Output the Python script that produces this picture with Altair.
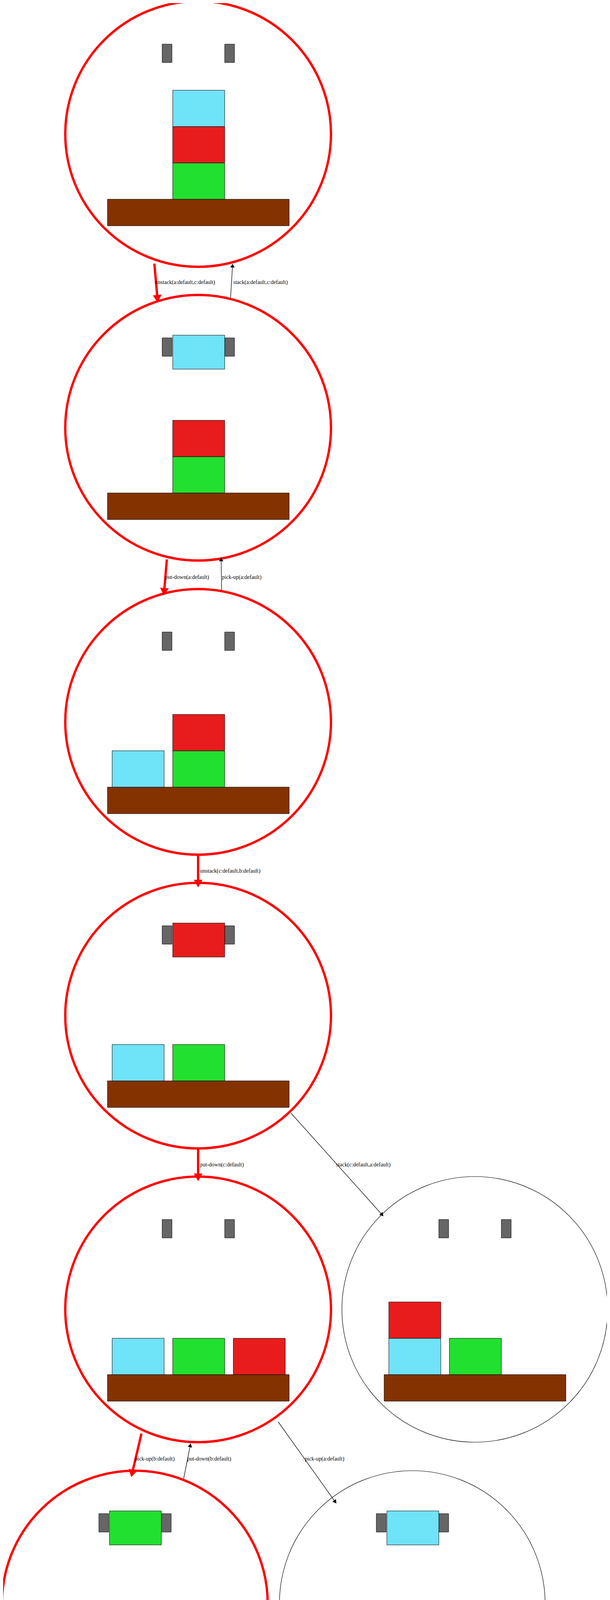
import altair as alt
import pandas as pd
import numpy as np

# -----------------------
# Graph data (image pixel coordinates)
# -----------------------
node_ids = ["s1", "s2", "s3", "s4", "s5", "s5b", "s6", "s6b", "s7"]
node_cx = [507, 507, 507, 507, 507, 1215, 345, 1055, 345]
node_cy = [343, 1095, 1848, 2600, 3352, 3352, 4105, 4105, 4858]
node_on_plan = [True, True, True, True, True, False, True, False, True]

# blocks per state: (slot, level, colour); slot -1/0/1 on table, "hold" = in gripper
CYAN, RED, GREEN = "#6fe3f7", "#e81c1c", "#22e02f"
state_blocks = {
    "s1": [(0, 0, GREEN), (0, 1, RED), (0, 2, CYAN)],
    "s2": [(0, 0, GREEN), (0, 1, RED), ("hold", 0, CYAN)],
    "s3": [(-1, 0, CYAN), (0, 0, GREEN), (0, 1, RED)],
    "s4": [(-1, 0, CYAN), (0, 0, GREEN), ("hold", 0, RED)],
    "s5": [(-1, 0, CYAN), (0, 0, GREEN), (1, 0, RED)],
    "s5b": [(-1, 0, CYAN), (-1, 1, RED), (0, 0, GREEN)],
    "s6": [(-1, 0, CYAN), (1, 0, RED), ("hold", 0, GREEN)],
    "s6b": [(0, 0, GREEN), (1, 0, RED), ("hold", 0, CYAN)],
    "s7": [(-1, 0, CYAN), (-1, 1, GREEN), (1, 0, RED)],
}

edge_src = ["s1", "s2", "s2", "s3", "s3", "s4", "s4", "s5", "s6", "s5", "s6"]
edge_dst = ["s2", "s1", "s3", "s2", "s4", "s5", "s5b", "s6", "s5", "s6b", "s7"]
edge_label = [
    "unstack(a:default,c:default)", "stack(a:default,c:default)",
    "put-down(a:default)", "pick-up(a:default)",
    "unstack(c:default,b:default)", "put-down(c:default)",
    "stack(c:default,a:default)", "pick-up(b:default)",
    "put-down(b:default)", "pick-up(a:default)",
    "stack(b:default,a:default)",
]
edge_on_plan = [True, False, True, False, True, True, False, True, False, False, True]
# start / end points of each edge
edge_x1 = [395, 590, 427, 567, 507, 507, 745, 362, 470, 712, 345]
edge_y1 = [675, 763, 1432, 1512, 2188, 2940, 2850, 3670, 3785, 3640, 4445]
edge_x2 = [403, 595, 420, 566, 507, 507, 978, 338, 487, 858, 345]
edge_y2 = [765, 680, 1515, 1432, 2262, 3014, 3110, 3772, 3700, 3845, 4520]
edge_lx = [397, 597, 423, 568, 512, 512, 860, 345, 479, 780, 350]
edge_ly = [723, 723, 1478, 1478, 2230, 2982, 2982, 3735, 3735, 3735, 4488]

# -----------------------
# Build tables
# -----------------------
nodes = pd.DataFrame({"id": node_ids, "cx": node_cx, "cy": node_cy,
                      "plan": node_on_plan})
nodes["r"] = 340

rects = []
for nid, cx, cy in zip(node_ids, node_cx, node_cy):
    # table
    rects.append(dict(x=cx - 232, x2=cx + 233, y=cy + 167, y2=cy + 235, c="#843200"))
    # gripper pegs
    rects.append(dict(x=cx - 92, x2=cx - 67, y=cy - 230, y2=cy - 183, c="#666666"))
    rects.append(dict(x=cx + 68, x2=cx + 93, y=cy - 230, y2=cy - 183, c="#666666"))
    for slot, level, col in state_blocks[nid]:
        if slot == "hold":
            rects.append(dict(x=cx - 65, x2=cx + 68, y=cy - 237, y2=cy - 150, c=col))
        else:
            x0 = cx - 220 + (slot + 1) * 155
            rects.append(dict(x=x0, x2=x0 + 133,
                              y=cy + 167 - (level + 1) * 93,
                              y2=cy + 167 - level * 93, c=col))
rects = pd.DataFrame(rects)

edges = pd.DataFrame({"label": edge_label, "plan": edge_on_plan,
                      "x1": edge_x1, "y1": edge_y1, "x2": edge_x2, "y2": edge_y2,
                      "lx": edge_lx, "ly": edge_ly})
edges["eid"] = range(len(edges))
edges["angle"] = (np.degrees(np.arctan2(edges.x2 - edges.x1,
                                         -(edges.y2 - edges.y1))) + 360) % 360
edges["col"] = np.where(edges.plan, "red", "black")
edges["w"] = np.where(edges.plan, 6, 1.3)
edges["hs"] = np.where(edges.plan, 500, 120)

lines = pd.concat([
    edges[["eid", "col", "w"]].assign(x=edges.x1, y=edges.y1, o=0),
    edges[["eid", "col", "w"]].assign(x=edges.x2, y=edges.y2, o=1),
])

# -----------------------
# Chart
# -----------------------
W, H = 1545, 5193
xs = alt.Scale(domain=[8, 8 + W], nice=False, zero=False)
ys = alt.Scale(domain=[8, 8 + H], nice=False, zero=False, reverse=True)

X = lambda f: alt.X(f, scale=xs, axis=None)
Y = lambda f: alt.Y(f, scale=ys, axis=None)

circles = alt.Chart(nodes).mark_point(shape="circle", filled=False, opacity=1).encode(
    x=X("cx:Q"), y=Y("cy:Q"),
    size=alt.Size("r:Q", scale=alt.Scale(domain=[0, 340], range=[0, 680 * 680],
                                         type="pow", exponent=2), legend=None),
    color=alt.Color("plan:N", scale=alt.Scale(domain=[True, False],
                                              range=["red", "black"]), legend=None),
    strokeWidth=alt.condition("datum.plan", alt.value(6), alt.value(1.2)),
)

boxes = alt.Chart(rects).mark_rect(stroke="black", strokeWidth=1).encode(
    x=X("x:Q"), x2="x2:Q", y=Y("y:Q"), y2="y2:Q",
    color=alt.Color("c:N", scale=None),
)

edge_lines = alt.Chart(lines).mark_line().encode(
    x=X("x:Q"), y=Y("y:Q"), detail="eid:N", order="o:Q",
    color=alt.Color("col:N", scale=None),
    strokeWidth=alt.StrokeWidth("w:Q", scale=None),
)

heads = alt.Chart(edges).mark_point(shape="triangle-up", filled=True, opacity=1).encode(
    x=X("x2:Q"), y=Y("y2:Q"),
    angle=alt.Angle("angle:Q", scale=None),
    color=alt.Color("col:N", scale=None),
    size=alt.Size("hs:Q", scale=None),
)

labels = alt.Chart(edges).mark_text(align="left", baseline="middle",
                                    font="Liberation Serif", fontSize=14,
                                    color="black").encode(
    x=X("lx:Q"), y=Y("ly:Q"), text="label:N",
)

chart = (boxes + circles + edge_lines + heads + labels).properties(
    width=W, height=H, padding=0, autosize=alt.AutoSizeParams(type="none"),
).configure_view(stroke=None)

chart.save("out.html", embed_options={"renderer": "svg", "actions": False})
